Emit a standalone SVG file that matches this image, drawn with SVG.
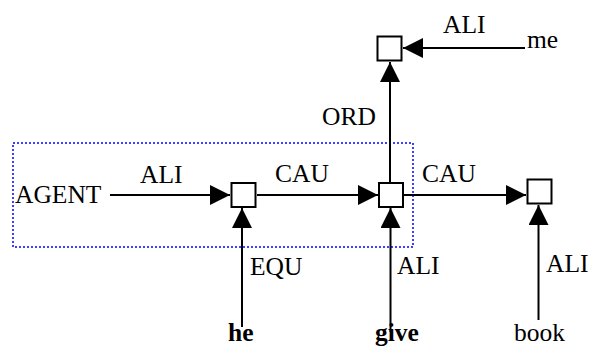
<svg xmlns="http://www.w3.org/2000/svg" width="591" height="347" viewBox="0 0 591 347">
<style>
.box{fill:#fff;stroke:#000;stroke-width:2}
.ln{stroke:#000;stroke-width:2;fill:none;marker-end:url(#ah)}
text{font-family:'Liberation Serif','DejaVu Serif',serif;font-size:25.5px;fill:#000}
.b{font-weight:bold}
</style>
<defs>
<marker id="ah" markerUnits="userSpaceOnUse" markerWidth="20" markerHeight="20" refX="20" refY="10" orient="auto" viewBox="0 0 20 20">
<path d="M0,0 L20,10 L0,20 z" fill="#000"/>
</marker>
</defs>
<rect x="13" y="143" width="400" height="104" fill="none" stroke="#0000ff" stroke-width="1.5" stroke-dasharray="2,2"/>
<g id="connectors">
<line class="ln" x1="110" y1="195" x2="230" y2="195"/>
<line class="ln" x1="257" y1="195" x2="378" y2="195"/>
<line class="ln" x1="404" y1="195" x2="526" y2="195"/>
<line class="ln" x1="242" y1="327" x2="242" y2="208"/>
<line class="ln" x1="390.5" y1="332" x2="390.5" y2="208"/>
<line class="ln" x1="538.5" y1="320" x2="538.5" y2="205"/>
<line class="ln" x1="390" y1="182" x2="390" y2="62"/>
<line class="ln" x1="525" y1="48" x2="403" y2="48"/>
</g>
<g id="n1"><rect class="box" x="231.5" y="183" width="24" height="24"/></g>
<g id="n2"><rect class="box" x="379" y="183" width="24" height="24"/></g>
<g id="n3"><rect class="box" x="527.5" y="179.5" width="24" height="24"/></g>
<g id="n4"><rect class="box" x="377.5" y="36.5" width="24" height="24"/></g>
<g id="labels" font-family="'Liberation Serif', serif">
<text x="15" y="203">AGENT</text>
<text x="140" y="183">ALI</text>
<text x="275" y="182">CAU</text>
<text x="422" y="182">CAU</text>
<text x="322" y="125">ORD</text>
<text x="443" y="33">ALI</text>
<text x="527" y="48">me</text>
<text x="250" y="275">EQU</text>
<text x="397" y="274">ALI</text>
<text x="546" y="272">ALI</text>
<text class="b" x="228" y="341">he</text>
<text class="b" x="375" y="341">give</text>
<text x="514" y="341">book</text>
</g>
</svg>
